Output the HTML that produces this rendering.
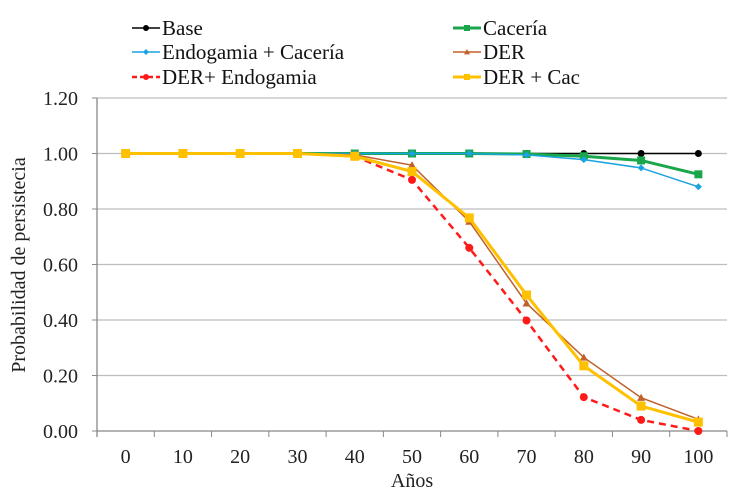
<!DOCTYPE html>
<html><head><meta charset="utf-8"><style>
body{margin:0;background:#fff}
svg{display:block;font-family:"Liberation Serif",serif}
</style></head><body>
<svg id="c" width="736" height="495"></svg>
<script>
const categories=[0,10,20,30,40,50,60,70,80,90,100];
const yTicks=[0,0.2,0.4,0.6,0.8,1.0,1.2];
const base=[1,1,1,1,1,1,1,1,1,1,1];
const caceria=[1,1,1,1,1,1,1,0.998,0.99,0.975,0.925];
const endoCac=[1,1,1,1,1,1,1,0.995,0.978,0.948,0.88];
const der=[1,1,1,1,0.995,0.958,0.755,0.46,0.265,0.12,0.042];
const derEndo=[1,1,1,1,0.99,0.905,0.66,0.398,0.122,0.04,0.0];
const derCac=[1,1,1,1,0.99,0.935,0.768,0.49,0.235,0.09,0.032];
const NS="http://www.w3.org/2000/svg";
const svg=document.getElementById('c');
const L=97,R=727,T=98,B=431;
const step=(R-L)/categories.length;
const xs=i=>L+step*(i+0.5);
const ys=v=>B-(v/1.2)*(B-T);
function mk(t,a,p){const e=document.createElementNS(NS,t);for(const k in a)e.setAttribute(k,a[k]);(p||svg).appendChild(e);return e;}
yTicks.forEach(v=>{
 const g=mk('line',{x1:L,x2:R,y1:ys(v),y2:ys(v),stroke:v===0?'#888':'#bdbdbd','stroke-width':1.3});
 
 
 const t=mk('text',{x:L-19,y:ys(v)+7,'text-anchor':'end','font-size':20,fill:'#222'});t.textContent=v.toFixed(2);
 
 
 mk('line',{x1:L-5,x2:L,y1:ys(v),y2:ys(v),stroke:'#888'});
});
mk('line',{x1:L,x2:L,y1:T,y2:B+6,stroke:'#888','stroke-width':1.3});
categories.forEach((c,i)=>{
 mk('line',{x1:L+step*(i+1),x2:L+step*(i+1),y1:B,y2:B+6,stroke:'#888'});
 const t=mk('text',{x:xs(i),y:B+32,'text-anchor':'middle','font-size':20,fill:'#222'});t.textContent=c;
 
 
});
let t=mk('text',{x:412,y:487,'text-anchor':'middle','font-size':20,fill:'#222'});t.textContent='Años';


t=mk('text',{x:25,y:265,'text-anchor':'middle','font-size':20,fill:'#222',transform:'rotate(-90 25 265)'});t.textContent='Probabilidad de persistecia';


const series=[
 {n:'Base',d:base,c:'#000',w:1.5,m:'circle',r:3.5,dash:''},
 {n:'Cacería',d:caceria,c:'#1aa64a',w:3,m:'square',r:4,dash:''},
 {n:'Endogamia + Cacería',d:endoCac,c:'#1aa3e0',w:1.5,m:'diamond',r:3.5,dash:''},
 {n:'DER',d:der,c:'#c0602a',w:1.5,m:'tri',r:4,dash:''},
 {n:'DER+ Endogamia',d:derEndo,c:'#ff1a1a',w:2.5,m:'circle',r:4,dash:'7,5'},
 {n:'DER + Cac',d:derCac,c:'#ffc000',w:3,m:'square',r:4.5,dash:''}];
function marker(m,x,y,r,c,g){
 if(m==='circle')return mk('circle',{cx:x,cy:y,r:r,fill:c},g);
 if(m==='square')return mk('rect',{x:x-r,y:y-r,width:2*r,height:2*r,fill:c},g);
 if(m==='diamond')return mk('path',{d:`M${x},${y-r}L${x+r},${y}L${x},${y+r}L${x-r},${y}Z`,fill:c},g);
 return mk('path',{d:`M${x},${y-r}L${x+r},${y+r*0.8}L${x-r},${y+r*0.8}Z`,fill:c},g);
}
series.forEach(s=>{
 const g=mk('g',{});
 
 
 mk('polyline',{points:s.d.map((v,i)=>xs(i)+','+ys(v)).join(' '),fill:'none',stroke:s.c,'stroke-width':s.w,'stroke-dasharray':s.dash},g);
 s.d.forEach((v,i)=>{const p=marker(s.m,xs(i),ys(v),s.r,s.c,g);
  
  });
});
const pos=[[132,28],[453,28],[132,52],[453,52],[132,77],[453,77]];
series.forEach((s,i)=>{
 const g=mk('g',{});
 
 
 const [x,y]=pos[i];
 mk('line',{x1:x,x2:x+28,y1:y,y2:y,stroke:s.c,'stroke-width':s.w,'stroke-dasharray':s.dash?'5,3':''},g);
 marker(s.m,x+14,y,3,s.c,g);
 const tt=mk('text',{x:x+30,y:y+7,'font-size':21,fill:'#111'},g);tt.textContent=s.n;
});
</script>
</body></html>
